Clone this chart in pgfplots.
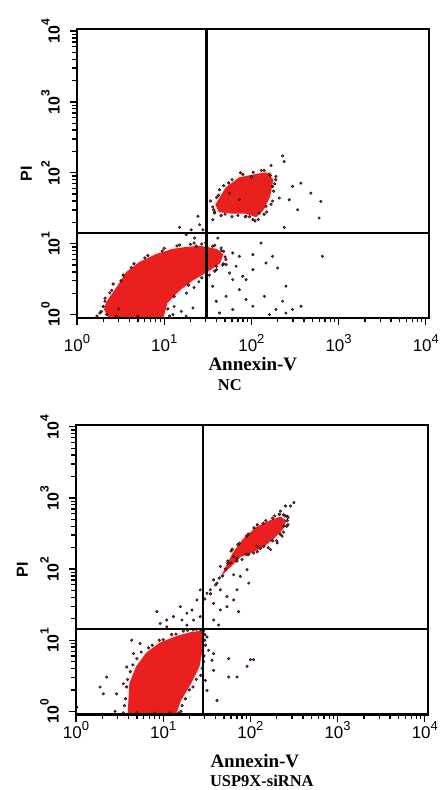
\documentclass[border=0pt]{standalone}
\usepackage{fontspec}
\setmainfont{Liberation Serif}
\setsansfont{Liberation Sans}
\usepackage{pgfplots}
\usepackage{pgfplotstable}
\pgfplotsset{compat=1.18}

\definecolor{cell}{RGB}{234,32,30}
\definecolor{dot}{RGB}{185,45,62}
\definecolor{halo}{RGB}{232,243,245}

% tick labels: 10 with a raised exponent
\newcommand{\xl}[1]{\fontsize{17}{17}\selectfont 10\raisebox{8.5pt}{\fontsize{13}{13}\selectfont #1}}
\newcommand{\yl}[1]{\rotatebox{90}{\fontsize{16}{16}\selectfont\bfseries 10\raisebox{10pt}{\fontsize{12}{12}\selectfont #1}}}

% log tick marks along the frame of an axis: #1,#2 = lower left corner (pt), #3 = height (pt)
\newcommand{\logticks}[3]{%
  \foreach \d in {0,1,2,3}{%
    \foreach \v in {1,...,9}{%
      \pgfmathsetmacro\px{#1+352*(log10(\v)+\d)/4.033424}%
      \pgfmathsetmacro\py{#2+#3*(log10(\v)+\d+0.045757)/4.075141}%
      \pgfmathsetmacro\tlen{ifthenelse(\v==1,7,4.5)}%
      \draw[line width=1.3pt] (\px pt,#2pt) -- ++(0pt,-\tlen pt);
      \draw[line width=1.3pt] (#1pt,\py pt) -- ++(-\tlen pt,0pt);
    }%
  }%
  \pgfmathsetmacro\px{#1+352*4/4.033424}%
  \pgfmathsetmacro\py{#2+#3*4.045757/4.075141}%
  \draw[line width=1.3pt] (\px pt,#2pt) -- ++(0pt,-7pt);
  \draw[line width=1.3pt] (#1pt,\py pt) -- ++(-7pt,0pt);
}

\pgfplotsset{
  every axis/.append style={
    scale only axis, width=352pt,
    xmode=log, ymode=log,
    xmin=1, xmax=10800, ymin=0.9, ymax=10700,
    clip mode=individual, axis on top,
    axis line style={line width=2.2pt},
    xtick style={draw=black, line width=1.3pt},
    ytick style={draw=black, line width=1.3pt},
    major tick length=7pt, minor tick length=4.5pt,
    tick align=outside, tick pos=left,
    xtick={1,10,100,1000,10000},
    ytick={1,10,100,1000,10000},
    minor xtick={2,3,4,5,6,7,8,9,20,30,40,50,60,70,80,90,200,300,400,500,600,700,800,900,2000,3000,4000,5000,6000,7000,8000,9000},
    minor ytick={2,3,4,5,6,7,8,9,20,30,40,50,60,70,80,90,200,300,400,500,600,700,800,900,2000,3000,4000,5000,6000,7000,8000,9000},
    xticklabels={\xl{0},\xl{1},\xl{2},\xl{3},\xl{4}},
    yticklabels={\yl{0},\yl{1},\yl{2},\yl{3},\yl{4}},
    yticklabel style={font=\sffamily, anchor=east, inner sep=0pt, xshift=-10pt},
  },
}

\pgfplotstableread{
x y
228 173
168 127
238 144
370 71.5
481 51.7
625 39.5
598 23.0
238 17.0
339 30.1
272 41.7
209 44.0
175 64.2
147 33.6
123 27.0
104 21.8
86.9 24.3
72.9 41.7
56.1 51.7
43.1 57.6
37.8 27.0
36.1 21.8
191 88.8
297 64.2
15.0 17.0
20.4 15.7
25.5 18.5
24.4 24.3
27.8 15.7
22.3 12.0
17.9 13.4
23.3 9.2
41.2 12.0
45.0 8.7
61.2 7.39
72.9 6.63
104 7.0
129 10.2
147 5.34
175 6.63
200 4.54
104 4.30
86.9 3.11
72.9 2.25
61.2 3.11
56.1 3.86
51.3 1.81
39.5 1.54
43.1 1.05
61.2 1.18
86.9 1.63
104 1.31
141 1.81
161 1.0
191 1.18
228 1.54
249 1.05
297 1.18
370 1.31
653 6.63
249 2.51
39.5 4.80
36.1 2.51
66.8 4.80
79.6 3.47
51.3 5.06
2.09 1.54
2.38 2.02
1.83 1.05
2.84 0.95
12.6 1.0
15.7 1.11
17.9 0.95
21.4 1.24
2.0 1.3
2.5 2.2
3.2 3.0
4.2 4.6
6.0 6.3
9.5 7.9
14 9.3
20 9.8
27 9.9
36 9.2
45 8.0
50 6.5
47 5.0
40 4.3
33 3.6
25 2.9
18 2.0
13 1.3
3.0 1.2
5 0.95
22 2.4
36 33
40 45
48 66
60 80
80 95
105 102
130 108
160 96
185 70
175 40
150 28
120 22
95 24
70 25
50 26
38 28
}\topevents

\pgfplotstableread{
x y
1.9 1.1
2.1 1.7
2.6 2.7
3.4 3.6
4.5 5.2
6.5 6.8
10 8.6
15 9.6
22 10.2
30 10.3
38 9.5
48 7.8
51 6.0
48 5.2
38 4.1
27 3.3
19 2.6
13 1.8
11 1.2
11.5 0.95
1.7 0.95
2.2 1.0
37 30
42 48
55 72
75 100
100 88
140 108
165 92
190 80
180 55
168 36
140 26
110 21
85 24
60 24
45 25
34 40
}\topedge

\pgfplotstableread{
x y
45.2 109
58.9 122
64.3 83.2
76.7 78.7
91.6 97.9
95.7 63.4
70.3 51.0
64.3 36.8
73.4 25.2
53.9 41.0
45.2 51.0
41.4 63.4
37.9 70.6
34.7 51.0
31.8 45.8
37.9 33.0
45.2 26.6
53.9 29.6
26.6 51.0
24.4 36.8
21.4 26.6
18.7 23.9
16.4 19.2
15.7 29.6
13.1 21.4
11.0 19.2
8.46 25.2
9.24 17.2
11.0 15.4
18.7 16.3
22.3 19.2
26.6 21.4
43.3 16.3
37.9 19.2
64.3 151
80.2 136
109 168
315 859
288 771
253 771
221 655
264 556
242 402
231 290
203 233
170 188
142 209
119 209
37.9 6.48
36.3 5.21
37.9 3.76
41.4 1.42
56.4 5.50
70.3 3.03
91.6 4.29
100 5.33
109 5.33
56.4 3.03
2.25 3.03
2.06 1.76
2.81 1.0
1.89 2.19
3.82 4.20
4.56 6.48
3.50 2.44
2.93 1.76
4.36 10.0
5.44 8.97
1.02 1.14
31.8 11.1
33.2 7.22
31.8 1.96
30.4 2.72
3.7 1.5
3.9 2.8
4.5 4.5
5.6 6.8
7.5 8.5
10 10.2
14 12.2
19 13.8
24 14.2
29 13.5
30 10
29.5 6
28 4
24 2.8
20 2.0
16.5 1.2
15 0.95
5 0.95
8 0.95
12 0.95
62 190
75 230
95 310
120 420
150 480
190 560
240 580
270 530
270 420
240 330
200 250
160 200
120 175
90 160
70 140
55 120
}\botevents

\pgfplotstableread{
x y
3.6 1.2
3.8 2.2
4.2 3.6
5.0 5.5
6.8 7.8
9 10
12.5 12
17 13.5
22 14
27 14
30 12
30.5 8.5
29 5
27 3.2
22 2.2
18 1.5
16 1.0
3.5 0.95
48 80
55 130
60 180
72 220
90 290
110 380
140 440
180 520
215 590
250 560
265 480
260 400
220 310
180 250
130 195
95 160
70 130
52 100
40 60
44 75
35 45
30 38
}\botedge

\begin{document}
\begin{tikzpicture}
\path (0pt,0pt) rectangle (442pt,790pt);

% ---- NC ----
\begin{axis}[at={(77pt,472pt)}, anchor=south west, height=289pt,
    xticklabel style={font=\sffamily, anchor=base, yshift=-27pt}]
  \addplot[fill=halo, draw=halo, line width=6pt] coordinates {(2.20,1.48) (2.94,2.48) (3.73,3.91) (5.25,5.40) (8.21,7.0) (12.5,8.23) (18.1,8.79) (25.5,9.08) (30.6,8.79) (39.8,8.23) (46.6,7.0) (43.1,5.40) (35.8,4.59) (30.6,4.03) (21.2,3.11) (15.0,2.25) (10.7,1.48) (9.6,0.9) (2.38,0.9) (2.09,1.18)} -- cycle;
  \addplot[fill=cell, draw=cell, line width=1.5pt] coordinates {(2.20,1.48) (2.94,2.48) (3.73,3.91) (5.25,5.40) (8.21,7.0) (12.5,8.23) (18.1,8.79) (25.5,9.08) (30.6,8.79) (39.8,8.23) (46.6,7.0) (43.1,5.40) (35.8,4.59) (30.6,4.03) (21.2,3.11) (15.0,2.25) (10.7,1.48) (9.6,0.9) (2.38,0.9) (2.09,1.18)} -- cycle;
  \addplot[fill=halo, draw=halo, line width=6pt] coordinates {(39.5,35.4) (51.4,60.9) (72.9,84.2) (113,93.7) (147,99) (175,79.7) (161,46.4) (135,30.1) (113,24.3) (86.9,27.1) (61.1,27.1) (43.1,28.5)} -- cycle;
  \addplot[fill=cell, draw=cell, line width=1.5pt] coordinates {(39.5,35.4) (51.4,60.9) (72.9,84.2) (113,93.7) (147,99) (175,79.7) (161,46.4) (135,30.1) (113,24.3) (86.9,27.1) (61.1,27.1) (43.1,28.5)} -- cycle;
  \addplot[only marks, mark=*, mark size=1.4pt, mark options={draw=none, fill=cell}] table {\topedge};
  \addplot[only marks, mark=*, mark size=1.3pt, mark options={draw=none, fill=dot}] table {\topevents};
  \addplot[black, line width=2.2pt] coordinates {(30.6,0.9) (30.6,10700)};
  \addplot[black, line width=2.2pt] coordinates {(1,14.3) (10800,14.3)};
\end{axis}
\logticks{77}{472}{289}
\node[rotate=90, anchor=base, font=\sffamily\bfseries\fontsize{16}{16}\selectfont] at (32pt,616pt) {PI};
\node[anchor=base, font=\bfseries\fontsize{19}{19}\selectfont] at (253pt,419pt) {Annexin-V};
\node[anchor=base, font=\bfseries\fontsize{16.5}{16.5}\selectfont] at (230pt,399pt) {NC};

% ---- USP9X-siRNA ----
\begin{axis}[at={(76pt,75pt)}, anchor=south west, height=290pt,
    xticklabel style={font=\sffamily, anchor=base, yshift=-17pt}]
  \addplot[fill=halo, draw=halo, line width=6pt] coordinates {(3.99,0.9) (4.18,2.46) (4.99,4.24) (6.50,6.55) (9.24,9.07) (14.4,11.2) (20.4,12.6) (26.6,13.2) (29.1,12.6) (27.8,7.29) (25.5,4.24) (20.4,2.46) (15.7,1.43) (13.7,0.9)} -- cycle;
  \addplot[fill=cell, draw=cell, line width=1.5pt] coordinates {(3.99,0.9) (4.18,2.46) (4.99,4.24) (6.50,6.55) (9.24,9.07) (14.4,11.2) (20.4,12.6) (26.6,13.2) (29.1,12.6) (27.8,7.29) (25.5,4.24) (20.4,2.46) (15.7,1.43) (13.7,0.9)} -- cycle;
  \addplot[fill=halo, draw=halo, line width=6pt] coordinates {(49.3,88.7) (64.3,170) (83.8,262) (119,384) (170,476) (221,532) (253,476) (231,363) (185,277) (142,211) (100,170) (76.7,152) (58.9,110)} -- cycle;
  \addplot[fill=cell, draw=cell, line width=1.5pt] coordinates {(49.3,88.7) (64.3,170) (83.8,262) (119,384) (170,476) (221,532) (253,476) (231,363) (185,277) (142,211) (100,170) (76.7,152) (58.9,110)} -- cycle;
  \addplot[only marks, mark=*, mark size=1.4pt, mark options={draw=none, fill=cell}] table {\botedge};
  \addplot[only marks, mark=*, mark size=1.3pt, mark options={draw=none, fill=dot}] table {\botevents};
  \addplot[black, line width=2.2pt] coordinates {(28.5,0.9) (28.5,10700)};
  \addplot[black, line width=2.2pt] coordinates {(1,14.5) (10800,14.5)};
\end{axis}
\logticks{76}{75}{290}
\node[rotate=90, anchor=base, font=\sffamily\bfseries\fontsize{16}{16}\selectfont] at (28pt,220pt) {PI};
\node[anchor=base, font=\bfseries\fontsize{19}{19}\selectfont] at (255pt,22pt) {Annexin-V};
\node[anchor=base, font=\bfseries\fontsize{16.5}{16.5}\selectfont] at (262pt,3pt) {USP9X-siRNA};
\end{tikzpicture}
\end{document}
